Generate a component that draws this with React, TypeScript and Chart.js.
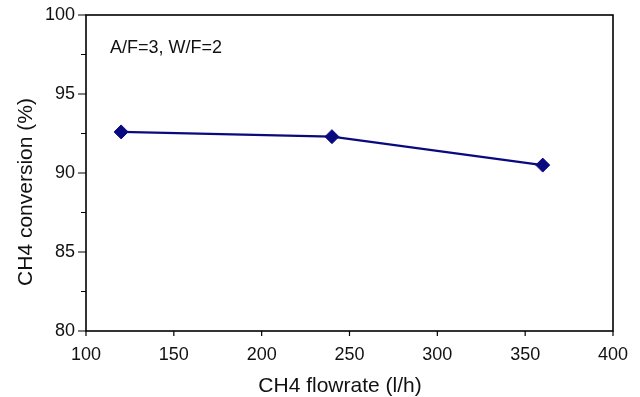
import React, { useEffect, useRef } from "react";
import { Chart, registerables } from "chart.js";

Chart.register(...registerables);

const flowrates = [120, 240, 360];
const conversions = [92.6, 92.3, 90.5];
const xTicks = [100, 150, 200, 250, 300, 350, 400];
const yTicks = [80, 85, 90, 95, 100];
const yMinorTicks = [82.5, 87.5, 92.5, 97.5];
const xTitle = "CH4 flowrate (l/h)";
const yTitle = "CH4 conversion (%)";
const note = "A/F=3, W/F=2";

const FONT = "'Liberation Sans', Arial, Helvetica, sans-serif";

const framePlugin = {
  id: "framePlugin",
  afterDraw(chart: any) {
    const { ctx, chartArea } = chart;
    const xs = chart.scales.x;
    const ys = chart.scales.y;
    const { left, right, top, bottom } = chartArea;
    ctx.save();
    ctx.strokeStyle = "#000";
    ctx.lineWidth = 1.6;
    ctx.strokeRect(left, top, right - left, bottom - top);
    ctx.lineWidth = 1.2;
    ctx.beginPath();
    xTicks.forEach((v) => {
      const px = xs.getPixelForValue(v);
      ctx.moveTo(px, bottom);
      ctx.lineTo(px, bottom + 5);
    });
    yTicks.forEach((v) => {
      const py = ys.getPixelForValue(v);
      ctx.moveTo(left, py);
      ctx.lineTo(left - 8, py);
    });
    yMinorTicks.forEach((v) => {
      const py = ys.getPixelForValue(v);
      ctx.moveTo(left, py);
      ctx.lineTo(left - 5, py);
    });
    ctx.stroke();

    ctx.fillStyle = "#111";
    ctx.font = `18px ${FONT}`;
    ctx.textAlign = "left";
    ctx.textBaseline = "alphabetic";
    ctx.fillText(note, 110, 53);

    ctx.font = `21px ${FONT}`;
    ctx.textAlign = "center";
    ctx.fillText(xTitle, 340, 392);

    ctx.translate(32, 192);
    ctx.rotate(-Math.PI / 2);
    ctx.fillText(yTitle, 0, 0);
    ctx.restore();
  },
};

export default function App() {
  const ref = useRef<HTMLCanvasElement | null>(null);
  useEffect(() => {
    if (!ref.current) return;
    const chart = new Chart(ref.current, {
      type: "line",
      data: {
        datasets: [
          {
            data: flowrates.map((x, i) => ({ x, y: conversions[i] })),
            borderColor: "#0a0a80",
            backgroundColor: "#0a0a80",
            borderWidth: 2.4,
            pointStyle: "rectRot",
            pointRadius: 7,
            pointBorderWidth: 1,
            pointBackgroundColor: "#0a0a80",
            pointBorderColor: "#0a0a80",
            tension: 0,
          },
        ],
      },
      options: {
        responsive: false,
        animation: false,
        layout: { padding: { top: 15, right: 27, left: 0, bottom: 0 } },
        plugins: {
          legend: { display: false },
          tooltip: { enabled: false },
        },
        scales: {
          x: {
            type: "linear",
            min: 100,
            max: 400,
            afterBuildTicks: (s: any) => {
              s.ticks = xTicks.map((v) => ({ value: v }));
            },
            grid: { display: false, drawTicks: false },
            border: { display: false },
            ticks: {
              padding: 13,
              color: "#111",
              font: { family: FONT, size: 18 },
            },
            afterFit: (s: any) => {
              s.height = 66;
              s.paddingLeft = 0;
              s.paddingRight = 0;
            },
          },
          y: {
            type: "linear",
            min: 80,
            max: 100,
            afterBuildTicks: (s: any) => {
              s.ticks = yTicks.map((v) => ({ value: v }));
            },
            grid: { display: false, drawTicks: false },
            border: { display: false },
            ticks: {
              padding: 11,
              color: "#111",
              font: { family: FONT, size: 18 },
            },
            afterFit: (s: any) => {
              s.width = 86;
              s.paddingTop = 0;
              s.paddingBottom = 0;
            },
          },
        },
      },
      plugins: [framePlugin],
    } as any);
    return () => chart.destroy();
  }, []);
  return (
    <div style={{ position: "absolute", left: 0, top: 0, width: 640, height: 397, background: "#fff" }}>
      <canvas ref={ref} width={640} height={397} style={{ display: "block" }} />
    </div>
  );
}
